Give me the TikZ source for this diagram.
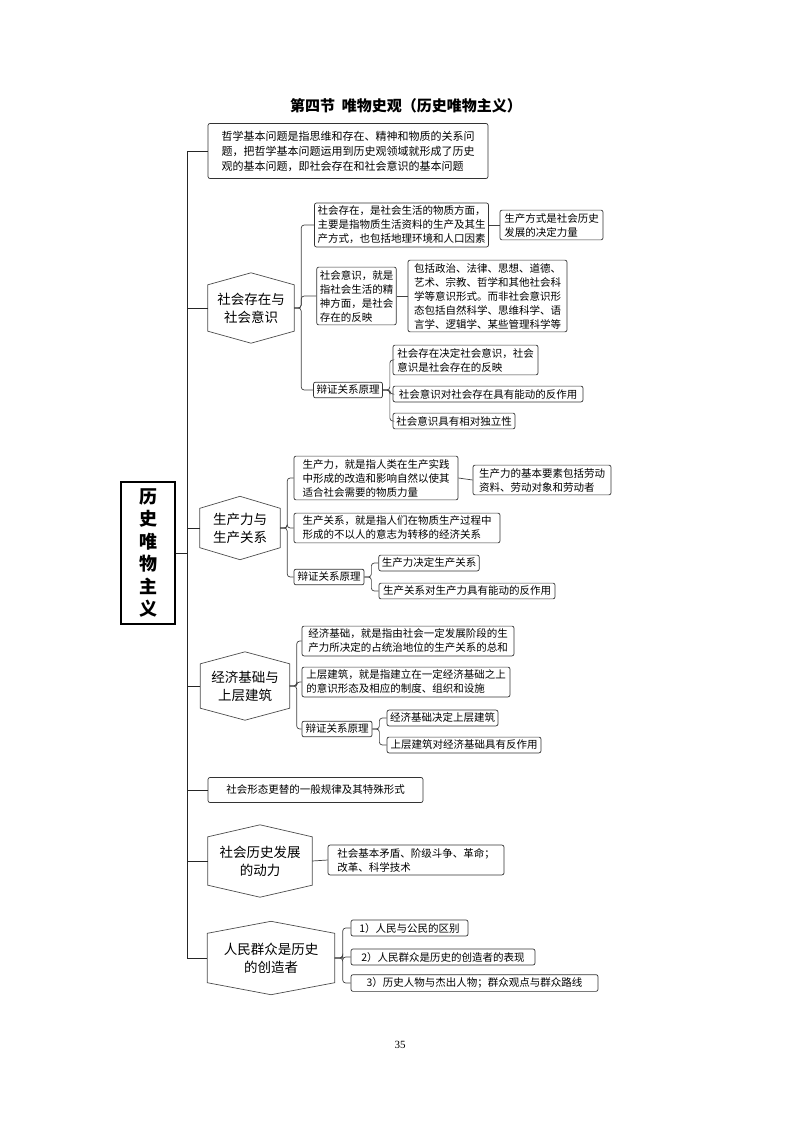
\documentclass[tikz,border=0pt]{standalone}
\usepackage{fontspec}
\usetikzlibrary{calc}
\setmainfont{Noto Sans CJK SC}
\newfontfamily\numfont{Liberation Serif}
\begin{document}
\begin{tikzpicture}[x=1pt,y=-1pt,
  bx/.style={draw=black!80,rounded corners=2pt,align=left,inner sep=3pt,font=\fontsize{10.5}{14}\selectfont,line width=0.7pt},
  hx/.style={align=center,font=\fontsize{13.5}{18}\selectfont,inner sep=0pt},
  conn/.style={draw=black!75,line width=0.7pt,rounded corners=3pt},
  trunk/.style={draw=black!85,line width=1pt}]
\useasboundingbox (0,0) rectangle (800,1132);
\newcommand{\hexa}[5]{%
  \node[hx,minimum width=#4,minimum height=#5] (#1) at (#2) {#3};
  \draw[black!70,line width=0.7pt] ($(#1.north west)+(0,12)$) -- (#1.north) -- ($(#1.north east)+(0,12)$) -- ($(#1.south east)+(0,-12)$) -- (#1.south) -- ($(#1.south west)+(0,-12)$) -- cycle;}
\node[font=\fontsize{15}{18}\selectfont\bfseries] (title) at (406,106) {第四节\ \ 唯物史观（历史唯物主义）};
\node[draw,line width=1.2pt,minimum width=54,minimum height=142,align=center,font=\fontsize{18}{22.5}\selectfont\bfseries] (root) at (148,553) {历\\史\\唯\\物\\主\\义};
% level 1
\node[bx,minimum width=280,minimum height=55,font=\fontsize{11}{15}\selectfont] (b1) at (348,151) {哲学基本问题是指思维和存在、精神和物质的关系问\\题，把哲学基本问题运用到历史观领域就形成了历史\\观的基本问题，即社会存在和社会意识的基本问题};
\hexa{h1}{251,308}{社会存在与\\社会意识}{86}{70}
\hexa{h2}{240,528}{生产力与\\生产关系}{80}{63}
\hexa{h3}{245,686}{经济基础与\\上层建筑}{89}{68}
\node[bx,minimum width=215,minimum height=25] (b7) at (315.5,790) {社会形态更替的一般规律及其特殊形式};
\hexa{h4}{260,861}{社会历史发展\\的动力}{104}{72}
\hexa{h5}{271,958}{人民群众是历史\\的创造者}{127}{73}
\foreach \c in {b1,h1,h2,h3,b7,h4,h5} \draw[trunk] (root.east) -- ++(12,0) |- (\c.west);
% h1
\node[bx,minimum width=167] (a1) at (401.5,225) {社会存在，是社会生活的物质方面，\\主要是指物质生活资料的生产及其生\\产方式，也包括地理环境和人口因素};
\node[bx,minimum width=103] (a1r) at (551.5,225) {生产方式是社会历史\\发展的决定力量};
\node[bx,minimum width=77] (a2) at (356.5,296) {社会意识，就是\\指社会生活的精\\神方面，是社会\\存在的反映};
\node[bx,minimum width=159] (a2r) at (487.5,296) {包括政治、法律、思想、道德、\\艺术、宗教、哲学和其他社会科\\学等意识形式。而非社会意识形\\态包括自然科学、思维科学、语\\言学、逻辑学、某些管理科学等};
\node[bx,minimum width=60] (a3) at (348,390) {辩证关系原理};
\node[bx,minimum width=145] (c1) at (465.5,360) {社会存在决定社会意识，社会\\意识是社会存在的反映};
\node[bx,minimum width=190] (c2) at (488,394) {社会意识对社会存在具有能动的反作用};
\node[bx,minimum width=122] (c3) at (454,421) {社会意识具有相对独立性};
\foreach \c in {a1,a2,a3} \draw[conn] (h1.east) -- ++(7,0) |- (\c.west);
\draw[conn] (a1.east) -- (a1r.west);
\draw[conn] (a2.east) -- (a2r.west);
\foreach \c in {c1,c2,c3} \draw[conn] (a3.east) -- ++(7,0) |- (\c.west);
% h2
\node[bx,minimum width=164] (p1) at (376,478) {生产力，就是指人类在生产实践\\中形成的改造和影响自然以使其\\适合社会需要的物质力量};
\node[bx,minimum width=138] (p1r) at (542,480) {生产力的基本要素包括劳动\\资料、劳动对象和劳动者};
\node[bx,minimum width=206] (p2) at (397,528) {生产关系，就是指人们在物质生产过程中\\形成的不以人的意志为转移的经济关系};
\node[bx,minimum width=70] (p3) at (329,577) {辩证关系原理};
\node[bx,minimum width=100] (d1) at (429,563) {生产力决定生产关系};
\node[bx,minimum width=176] (d2) at (467,591) {生产关系对生产力具有能动的反作用};
\foreach \c in {p1,p2,p3} \draw[conn] (h2.east) -- ++(7,0) |- (\c.west);
\draw[conn] (p1.east) -- (p1r.west);
\foreach \c in {d1,d2} \draw[conn] (p3.east) -- ++(7,0) |- (\c.west);
% h3
\node[bx,minimum width=212] (e1) at (408,641) {经济基础，就是指由社会一定发展阶段的生\\产力所决定的占统治地位的生产关系的总和};
\node[bx,minimum width=208] (e2) at (406,682) {上层建筑，就是指建立在一定经济基础之上\\的意识形态及相应的制度、组织和设施};
\node[bx,minimum width=70] (e3) at (337,729) {辩证关系原理};
\node[bx,minimum width=111] (f1) at (442.5,718) {经济基础决定上层建筑};
\node[bx,minimum width=154] (f2) at (464,745) {上层建筑对经济基础具有反作用};
\foreach \c in {e1,e2,e3} \draw[conn] (h3.east) -- ++(7,0) |- (\c.west);
\foreach \c in {f1,f2} \draw[conn] (e3.east) -- ++(7,0) |- (\c.west);
% h4
\node[bx,minimum width=176] (r4) at (416,860) {社会基本矛盾、阶级斗争、革命；\\改革、科学技术};
\draw[conn] (h4.east) -- (r4.west);
% h5
\node[bx,minimum width=117] (g1) at (409.5,928) {1）人民与公民的区别};
\node[bx,minimum width=184] (g2) at (443,957) {2）人民群众是历史的创造者的表现};
\node[bx,minimum width=247] (g3) at (474.5,983) {3）历史人物与杰出人物；群众观点与群众路线};
\foreach \c in {g1,g2,g3} \draw[conn] (h5.east) -- ++(8,0) |- (\c.west);
\node[font=\numfont\fontsize{11}{13}\selectfont] (pg) at (400,1045) {35};
\end{tikzpicture}
\end{document}
